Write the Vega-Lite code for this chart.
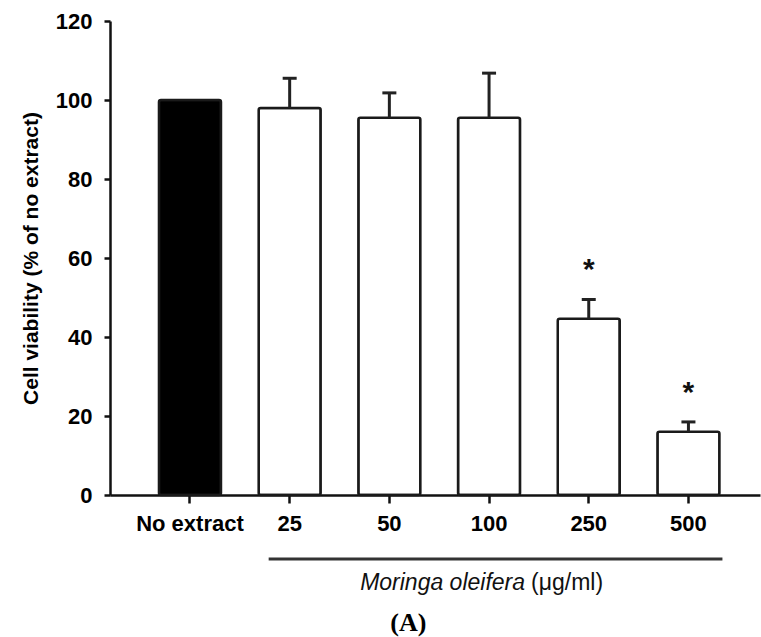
{
  "$schema": "https://vega.github.io/schema/vega-lite/v6.json",
  "autosize": "none",
  "width": 650,
  "height": 474,
  "padding": {"left": 110, "top": 21, "right": 1, "bottom": 142},
  "background": "white",
  "config": {
    "view": {"stroke": null},
    "font": "Liberation Sans"
  },
  "datasets": {
    "bars": [
      {"group": "No extract", "type": "control", "mean": 100, "upper": null, "sig": ""},
      {"group": "25", "type": "extract", "mean": 98, "upper": 105.5, "sig": ""},
      {"group": "50", "type": "extract", "mean": 95.5, "upper": 101.8, "sig": ""},
      {"group": "100", "type": "extract", "mean": 95.5, "upper": 106.8, "sig": ""},
      {"group": "250", "type": "extract", "mean": 44.6, "upper": 49.5, "sig": "*"},
      {"group": "500", "type": "extract", "mean": 16, "upper": 18.5, "sig": "*"}
    ],
    "bracket": [
      {"from": "25", "to": "500", "level": -16.2, "title_level": -22.3, "panel_level": -32.4, "name": "Moringa oleifera", "unit": "(μg/ml)", "anchor": "100", "panel_anchor": "50", "panel": "(A)"}
    ]
  },
  "layer": [
    {
      "data": {"name": "bars"},
      "mark": {"type": "bar", "stroke": "#1a1a1a", "strokeWidth": 2.5, "cornerRadius": 2},
      "encoding": {
        "x": {
          "field": "group", "type": "nominal", "sort": null,
          "scale": {"domain": ["No extract", "25", "50", "100", "250", "500"], "paddingInner": 0.378, "paddingOuter": 0.449, "align": 0.547},
          "axis": {
            "title": null, "labelAngle": 0, "labelFont": "Liberation Sans", "labelFontWeight": "bold",
            "labelFontSize": 22, "labelColor": "#000", "labelPadding": 10,
            "tickSize": 8, "tickWidth": 2.5, "tickColor": "#111",
            "domainColor": "#111", "domainWidth": 2.5
          }
        },
        "y": {
          "field": "mean", "type": "quantitative",
          "scale": {"domain": [0, 120], "nice": false},
          "axis": {
            "values": [0, 20, 40, 60, 80, 100, 120], "grid": false,
            "title": "Cell viability (% of no extract)", "titleFont": "Liberation Sans", "titleFontWeight": "bold",
            "titleFontSize": 21, "titleColor": "#000", "titlePadding": 14,
            "labelFont": "Liberation Sans", "labelFontWeight": "bold", "labelFontSize": 22, "labelColor": "#000",
            "labelPadding": 12, "tickSize": 6, "tickWidth": 2.5, "tickColor": "#111",
            "domainColor": "#111", "domainWidth": 2.5
          }
        },
        "fill": {
          "field": "type", "type": "nominal",
          "scale": {"domain": ["control", "extract"], "range": ["#000000", "#ffffff"]},
          "legend": null
        }
      }
    },
    {
      "data": {"name": "bars"},
      "transform": [{"filter": "datum.upper != null"}],
      "mark": {"type": "rule", "strokeWidth": 3, "color": "#222"},
      "encoding": {
        "x": {"field": "group", "type": "nominal", "sort": null},
        "y": {"field": "mean", "type": "quantitative", "scale": {"domain": [0, 120], "nice": false}},
        "y2": {"field": "upper"}
      }
    },
    {
      "data": {"name": "bars"},
      "transform": [{"filter": "datum.upper != null"}],
      "mark": {"type": "tick", "size": 14, "thickness": 3, "color": "#222", "opacity": 1},
      "encoding": {
        "x": {"field": "group", "type": "nominal", "sort": null},
        "y": {"field": "upper", "type": "quantitative", "scale": {"domain": [0, 120], "nice": false}}
      }
    },
    {
      "data": {"name": "bars"},
      "transform": [{"filter": "datum.sig != ''"}],
      "mark": {"type": "text", "font": "Liberation Sans", "fontWeight": "bold", "fontSize": 30, "baseline": "alphabetic", "dy": -20, "color": "#111"},
      "encoding": {
        "x": {"field": "group", "type": "nominal", "sort": null},
        "y": {"field": "upper", "type": "quantitative", "scale": {"domain": [0, 120], "nice": false}},
        "text": {"field": "sig"}
      }
    },
    {
      "data": {"name": "bracket"},
      "mark": {"type": "rule", "strokeWidth": 3, "color": "#333", "xOffset": -21, "x2Offset": 34},
      "encoding": {
        "x": {"field": "from", "type": "nominal", "sort": null},
        "x2": {"field": "to"},
        "y": {"field": "level", "type": "quantitative", "scale": {"domain": [0, 120], "nice": false}}
      }
    },
    {
      "data": {"name": "bracket"},
      "mark": {"type": "text", "font": "Liberation Sans", "fontStyle": "italic", "fontSize": 23, "align": "right", "baseline": "middle", "dx": 36, "color": "#111"},
      "encoding": {
        "x": {"field": "anchor", "type": "nominal", "sort": null},
        "y": {"field": "title_level", "type": "quantitative", "scale": {"domain": [0, 120], "nice": false}},
        "text": {"field": "name"}
      }
    },
    {
      "data": {"name": "bracket"},
      "mark": {"type": "text", "font": "Liberation Sans", "fontSize": 23, "align": "left", "baseline": "middle", "dx": 42, "color": "#111"},
      "encoding": {
        "x": {"field": "anchor", "type": "nominal", "sort": null},
        "y": {"field": "title_level", "type": "quantitative", "scale": {"domain": [0, 120], "nice": false}},
        "text": {"field": "unit"}
      }
    },
    {
      "data": {"name": "bracket"},
      "mark": {"type": "text", "font": "Liberation Serif", "fontWeight": "bold", "fontSize": 26, "align": "center", "baseline": "middle", "dx": 19, "color": "#000"},
      "encoding": {
        "x": {"field": "panel_anchor", "type": "nominal", "sort": null},
        "y": {"field": "panel_level", "type": "quantitative", "scale": {"domain": [0, 120], "nice": false}},
        "text": {"field": "panel"}
      }
    }
  ]
}
